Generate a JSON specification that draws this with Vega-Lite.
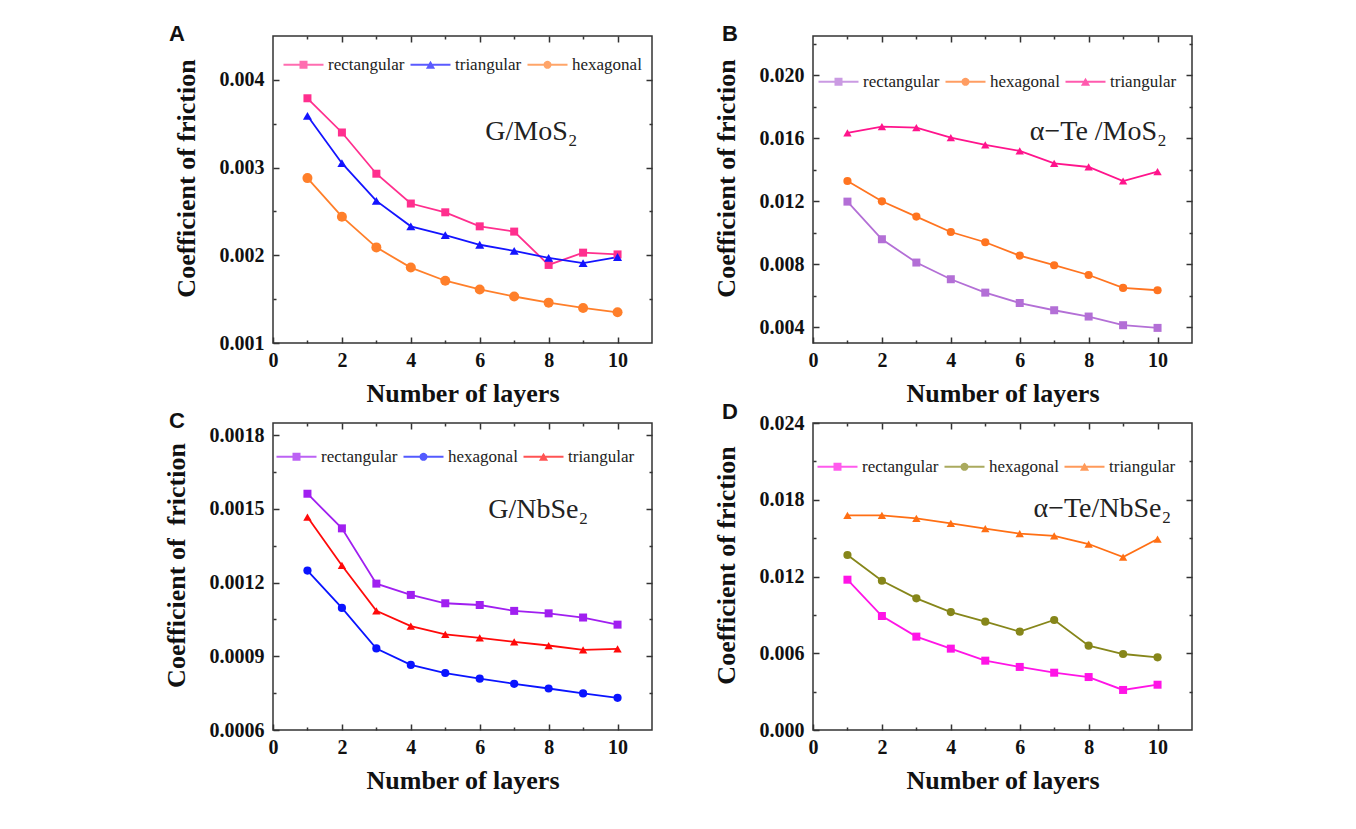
{
  "$schema": "https://vega.github.io/schema/vega-lite/v6.json",
  "background": "white",
  "padding": {"left": 162, "top": 22, "right": 5, "bottom": 5},
  "datasets": {
    "A": [
      {"layers": 1, "lattice": "rectangular", "cof": 0.00379}, {"layers": 2, "lattice": "rectangular", "cof": 0.00340},
      {"layers": 3, "lattice": "rectangular", "cof": 0.00293}, {"layers": 4, "lattice": "rectangular", "cof": 0.00259},
      {"layers": 5, "lattice": "rectangular", "cof": 0.00249}, {"layers": 6, "lattice": "rectangular", "cof": 0.00233},
      {"layers": 7, "lattice": "rectangular", "cof": 0.00227}, {"layers": 8, "lattice": "rectangular", "cof": 0.00189},
      {"layers": 9, "lattice": "rectangular", "cof": 0.00203}, {"layers": 10, "lattice": "rectangular", "cof": 0.00201},
      {"layers": 1, "lattice": "triangular", "cof": 0.00359}, {"layers": 2, "lattice": "triangular", "cof": 0.00305},
      {"layers": 3, "lattice": "triangular", "cof": 0.00262}, {"layers": 4, "lattice": "triangular", "cof": 0.00233},
      {"layers": 5, "lattice": "triangular", "cof": 0.00223}, {"layers": 6, "lattice": "triangular", "cof": 0.00212},
      {"layers": 7, "lattice": "triangular", "cof": 0.00205}, {"layers": 8, "lattice": "triangular", "cof": 0.00197},
      {"layers": 9, "lattice": "triangular", "cof": 0.00191}, {"layers": 10, "lattice": "triangular", "cof": 0.00198},
      {"layers": 1, "lattice": "hexagonal", "cof": 0.00288}, {"layers": 2, "lattice": "hexagonal", "cof": 0.00244},
      {"layers": 3, "lattice": "hexagonal", "cof": 0.00209}, {"layers": 4, "lattice": "hexagonal", "cof": 0.00186},
      {"layers": 5, "lattice": "hexagonal", "cof": 0.00171}, {"layers": 6, "lattice": "hexagonal", "cof": 0.00161},
      {"layers": 7, "lattice": "hexagonal", "cof": 0.00153}, {"layers": 8, "lattice": "hexagonal", "cof": 0.00146},
      {"layers": 9, "lattice": "hexagonal", "cof": 0.00140}, {"layers": 10, "lattice": "hexagonal", "cof": 0.00135}
    ],
    "B": [
      {"layers": 1, "lattice": "rectangular", "cof": 0.01198}, {"layers": 2, "lattice": "rectangular", "cof": 0.00959},
      {"layers": 3, "lattice": "rectangular", "cof": 0.00811}, {"layers": 4, "lattice": "rectangular", "cof": 0.00705},
      {"layers": 5, "lattice": "rectangular", "cof": 0.00620}, {"layers": 6, "lattice": "rectangular", "cof": 0.00554},
      {"layers": 7, "lattice": "rectangular", "cof": 0.00508}, {"layers": 8, "lattice": "rectangular", "cof": 0.00468},
      {"layers": 9, "lattice": "rectangular", "cof": 0.00413}, {"layers": 10, "lattice": "rectangular", "cof": 0.00396},
      {"layers": 1, "lattice": "hexagonal", "cof": 0.01329}, {"layers": 2, "lattice": "hexagonal", "cof": 0.01200},
      {"layers": 3, "lattice": "hexagonal", "cof": 0.01103}, {"layers": 4, "lattice": "hexagonal", "cof": 0.01005},
      {"layers": 5, "lattice": "hexagonal", "cof": 0.00940}, {"layers": 6, "lattice": "hexagonal", "cof": 0.00855},
      {"layers": 7, "lattice": "hexagonal", "cof": 0.00794}, {"layers": 8, "lattice": "hexagonal", "cof": 0.00732},
      {"layers": 9, "lattice": "hexagonal", "cof": 0.00650}, {"layers": 10, "lattice": "hexagonal", "cof": 0.00635},
      {"layers": 1, "lattice": "triangular", "cof": 0.01634}, {"layers": 2, "lattice": "triangular", "cof": 0.01674},
      {"layers": 3, "lattice": "triangular", "cof": 0.01668}, {"layers": 4, "lattice": "triangular", "cof": 0.01604},
      {"layers": 5, "lattice": "triangular", "cof": 0.01558}, {"layers": 6, "lattice": "triangular", "cof": 0.01520},
      {"layers": 7, "lattice": "triangular", "cof": 0.01441}, {"layers": 8, "lattice": "triangular", "cof": 0.01418},
      {"layers": 9, "lattice": "triangular", "cof": 0.01329}, {"layers": 10, "lattice": "triangular", "cof": 0.01388}
    ],
    "C": [
      {"layers": 1, "lattice": "rectangular", "cof": 0.001562}, {"layers": 2, "lattice": "rectangular", "cof": 0.001421},
      {"layers": 3, "lattice": "rectangular", "cof": 0.001196}, {"layers": 4, "lattice": "rectangular", "cof": 0.001150},
      {"layers": 5, "lattice": "rectangular", "cof": 0.001116}, {"layers": 6, "lattice": "rectangular", "cof": 0.001109},
      {"layers": 7, "lattice": "rectangular", "cof": 0.001085}, {"layers": 8, "lattice": "rectangular", "cof": 0.001075},
      {"layers": 9, "lattice": "rectangular", "cof": 0.001058}, {"layers": 10, "lattice": "rectangular", "cof": 0.001029},
      {"layers": 1, "lattice": "hexagonal", "cof": 0.001249}, {"layers": 2, "lattice": "hexagonal", "cof": 0.001097},
      {"layers": 3, "lattice": "hexagonal", "cof": 0.000932}, {"layers": 4, "lattice": "hexagonal", "cof": 0.000865},
      {"layers": 5, "lattice": "hexagonal", "cof": 0.000832}, {"layers": 6, "lattice": "hexagonal", "cof": 0.000809},
      {"layers": 7, "lattice": "hexagonal", "cof": 0.000788}, {"layers": 8, "lattice": "hexagonal", "cof": 0.000769},
      {"layers": 9, "lattice": "hexagonal", "cof": 0.000749}, {"layers": 10, "lattice": "hexagonal", "cof": 0.000731},
      {"layers": 1, "lattice": "triangular", "cof": 0.001467}, {"layers": 2, "lattice": "triangular", "cof": 0.001270},
      {"layers": 3, "lattice": "triangular", "cof": 0.001085}, {"layers": 4, "lattice": "triangular", "cof": 0.001023},
      {"layers": 5, "lattice": "triangular", "cof": 0.000989}, {"layers": 6, "lattice": "triangular", "cof": 0.000975},
      {"layers": 7, "lattice": "triangular", "cof": 0.000959}, {"layers": 8, "lattice": "triangular", "cof": 0.000944},
      {"layers": 9, "lattice": "triangular", "cof": 0.000926}, {"layers": 10, "lattice": "triangular", "cof": 0.000930}
    ],
    "D": [
      {"layers": 1, "lattice": "rectangular", "cof": 0.01175}, {"layers": 2, "lattice": "rectangular", "cof": 0.00891},
      {"layers": 3, "lattice": "rectangular", "cof": 0.00730}, {"layers": 4, "lattice": "rectangular", "cof": 0.00636},
      {"layers": 5, "lattice": "rectangular", "cof": 0.00542}, {"layers": 6, "lattice": "rectangular", "cof": 0.00493},
      {"layers": 7, "lattice": "rectangular", "cof": 0.00448}, {"layers": 8, "lattice": "rectangular", "cof": 0.00414},
      {"layers": 9, "lattice": "rectangular", "cof": 0.00313}, {"layers": 10, "lattice": "rectangular", "cof": 0.00354},
      {"layers": 1, "lattice": "hexagonal", "cof": 0.01368}, {"layers": 2, "lattice": "hexagonal", "cof": 0.01167},
      {"layers": 3, "lattice": "hexagonal", "cof": 0.01029}, {"layers": 4, "lattice": "hexagonal", "cof": 0.00922},
      {"layers": 5, "lattice": "hexagonal", "cof": 0.00847}, {"layers": 6, "lattice": "hexagonal", "cof": 0.00769},
      {"layers": 7, "lattice": "hexagonal", "cof": 0.00860}, {"layers": 8, "lattice": "hexagonal", "cof": 0.00659},
      {"layers": 9, "lattice": "hexagonal", "cof": 0.00594}, {"layers": 10, "lattice": "hexagonal", "cof": 0.00568},
      {"layers": 1, "lattice": "triangular", "cof": 0.01678}, {"layers": 2, "lattice": "triangular", "cof": 0.01678},
      {"layers": 3, "lattice": "triangular", "cof": 0.01655}, {"layers": 4, "lattice": "triangular", "cof": 0.01616},
      {"layers": 5, "lattice": "triangular", "cof": 0.01574}, {"layers": 6, "lattice": "triangular", "cof": 0.01535},
      {"layers": 7, "lattice": "triangular", "cof": 0.01517}, {"layers": 8, "lattice": "triangular", "cof": 0.01454},
      {"layers": 9, "lattice": "triangular", "cof": 0.01352}, {"layers": 10, "lattice": "triangular", "cof": 0.01493}
    ]
  },
  "columns": 2,
  "spacing": {"row": 80, "column": 161},
  "bounds": "flush",
  "concat": [
    {
      "title": {"text": "A", "anchor": "start", "frame": "group", "dx": -104, "dy": 28, "offset": 0, "baseline": "alphabetic", "font": "Liberation Sans", "fontWeight": "bold", "fontSize": 22, "color": "#111"},
      "width": 379, "height": 307,
      "data": {"name": "A"},
      "layer": [
        {
          "mark": {"type": "line", "strokeWidth": 1.8},
          "encoding": {
            "x": {"field": "layers", "type": "quantitative", "scale": {"domain": [0, 11], "nice": false},
                  "axis": {"orient": "bottom", "values": [0, 2, 4, 6, 8, 10], "tickSize": -6, "labelPadding": 13, "title": "Number of layers", "titlePadding": 10}},
            "y": {"field": "cof", "type": "quantitative", "scale": {"domain": [0.001, 0.0045], "nice": false, "zero": false},
                  "axis": {"orient": "left", "values": [0.001, 0.002, 0.003, 0.004], "format": ".3f", "tickSize": -6, "labelPadding": 15, "title": "Coefficient of friction", "titlePadding": 20, "titleY": 142}},
            "color": {"field": "lattice", "type": "nominal", "scale": {"domain": ["rectangular", "triangular", "hexagonal"], "range": ["#ff2f8e", "#1414ff", "#ff7f2a"]}, "legend": null}
          }
        },
        {
          "mark": {"type": "point", "filled": true, "opacity": 1},
          "encoding": {
            "x": {"field": "layers", "type": "quantitative", "axis": {"orient": "bottom", "values": [1, 3, 5, 7, 9], "tickSize": -3, "labels": false, "title": null}},
            "y": {"field": "cof", "type": "quantitative", "axis": {"orient": "left", "values": [0.0015, 0.0025, 0.0035], "tickSize": -3, "labels": false, "title": null}},
            "color": {"field": "lattice", "type": "nominal", "scale": {"domain": ["rectangular", "triangular", "hexagonal"], "range": ["#ff2f8e", "#1414ff", "#ff7f2a"]}, "legend": null},
            "shape": {"field": "lattice", "type": "nominal", "scale": {"domain": ["rectangular", "triangular", "hexagonal"], "range": ["square", "triangle-up", "circle"]}, "legend": null},
            "size": {"field": "lattice", "type": "nominal", "scale": {"domain": ["rectangular", "triangular", "hexagonal"], "range": [64, 100, 70]}, "legend": null}
          }
        },
        {
          "transform": [{"filter": "false"}],
          "mark": {"type": "point", "filled": true, "size": 64},
          "encoding": {
            "x": {"field": "layers", "type": "quantitative", "axis": {"orient": "top", "values": [2, 4, 6, 8, 10], "tickSize": -6, "labels": false, "title": null}},
            "y": {"field": "cof", "type": "quantitative", "axis": {"orient": "right", "values": [0.002, 0.003, 0.004], "tickSize": -6, "labels": false, "title": null}},
            "color": {"field": "lattice", "type": "nominal", "scale": {"domain": ["rectangular", "triangular", "hexagonal"], "range": ["#ff2f8e", "#1414ff", "#ff7f2a"]},
                      "legend": {"orient": "none", "legendX": 22, "legendY": 20, "direction": "horizontal", "columns": 3, "title": null, "symbolSize": 64, "labelOffset": 16, "columnPadding": 5, "labelFont": "Liberation Serif", "labelFontSize": 17, "labelColor": "#222", "symbolStrokeWidth": 0, "padding": 0}},
            "shape": {"field": "lattice", "type": "nominal", "scale": {"domain": ["rectangular", "triangular", "hexagonal"], "range": [
                        "M-5,-0.22H-1V-1H1V-0.22H5V0.22H1V1H-1V0.22H-5Z",
                        "M-5,-0.22H-0.449L0,-1L0.449,-0.22H5V0.22H0.702L1.15,1H-1.15L-0.702,0.22H-5Z",
                        "M-5,-0.22H-0.976A1,1 0 0 1 0.976,-0.22H5V0.22H0.976A1,1 0 0 1 -0.976,0.22H-5Z"]},
                      "legend": {"orient": "none", "legendX": 22, "legendY": 20, "direction": "horizontal", "columns": 3, "title": null, "symbolSize": 64, "labelOffset": 16, "columnPadding": 5, "labelFont": "Liberation Serif", "labelFontSize": 17, "labelColor": "#222", "symbolStrokeWidth": 0, "padding": 0}}
          }
        },
        {
          "data": {"values": [{}]},
          "mark": {"type": "text", "font": "Liberation Serif", "fontSize": 28, "color": "#222", "align": "center", "baseline": "middle"},
          "encoding": {
            "x": {"datum": 7.5, "type": "quantitative", "axis": {"orient": "top", "values": [1, 3, 5, 7, 9], "tickSize": -3, "labels": false, "title": null}},
            "y": {"datum": 0.0034, "type": "quantitative", "axis": {"orient": "right", "values": [0.0015, 0.0025, 0.0035], "tickSize": -3, "labels": false, "title": null}},
            "text": {"value": "G/MoS₂"}
          }
        }
      ],
      "resolve": {"scale": {"color": "independent", "shape": "independent", "size": "independent"}, "axis": {"x": "independent", "y": "independent"}}
    },
    {
      "title": {"text": "B", "anchor": "start", "frame": "group", "dx": -91, "dy": 28, "offset": 0, "baseline": "alphabetic", "font": "Liberation Sans", "fontWeight": "bold", "fontSize": 22, "color": "#111"},
      "width": 379, "height": 307,
      "data": {"name": "B"},
      "layer": [
        {
          "mark": {"type": "line", "strokeWidth": 1.8},
          "encoding": {
            "x": {"field": "layers", "type": "quantitative", "scale": {"domain": [0, 11], "nice": false},
                  "axis": {"orient": "bottom", "values": [0, 2, 4, 6, 8, 10], "tickSize": -6, "labelPadding": 13, "title": "Number of layers", "titlePadding": 10}},
            "y": {"field": "cof", "type": "quantitative", "scale": {"domain": [0.003, 0.0225], "nice": false, "zero": false},
                  "axis": {"orient": "left", "values": [0.004, 0.008, 0.012, 0.016, 0.02], "format": ".3f", "tickSize": -6, "labelPadding": 15, "title": "Coefficient of friction", "titlePadding": 20, "titleY": 142}},
            "color": {"field": "lattice", "type": "nominal", "scale": {"domain": ["rectangular", "hexagonal", "triangular"], "range": ["#b36fd6", "#ff7420", "#ff148c"]}, "legend": null}
          }
        },
        {
          "mark": {"type": "point", "filled": true, "opacity": 1},
          "encoding": {
            "x": {"field": "layers", "type": "quantitative", "axis": {"orient": "bottom", "values": [1, 3, 5, 7, 9], "tickSize": -3, "labels": false, "title": null}},
            "y": {"field": "cof", "type": "quantitative", "axis": {"orient": "left", "values": [0.006, 0.01, 0.014, 0.018, 0.022], "tickSize": -3, "labels": false, "title": null}},
            "color": {"field": "lattice", "type": "nominal", "scale": {"domain": ["rectangular", "hexagonal", "triangular"], "range": ["#b36fd6", "#ff7420", "#ff148c"]}, "legend": null},
            "shape": {"field": "lattice", "type": "nominal", "scale": {"domain": ["rectangular", "hexagonal", "triangular"], "range": ["square", "circle", "triangle-up"]}, "legend": null},
            "size": {"field": "lattice", "type": "nominal", "scale": {"domain": ["rectangular", "hexagonal", "triangular"], "range": [64, 70, 100]}, "legend": null}
          }
        },
        {
          "transform": [{"filter": "false"}],
          "mark": {"type": "point", "filled": true, "size": 64},
          "encoding": {
            "x": {"field": "layers", "type": "quantitative", "axis": {"orient": "top", "values": [2, 4, 6, 8, 10], "tickSize": -6, "labels": false, "title": null}},
            "y": {"field": "cof", "type": "quantitative", "axis": {"orient": "right", "values": [0.004, 0.008, 0.012, 0.016, 0.02], "tickSize": -6, "labels": false, "title": null}},
            "color": {"field": "lattice", "type": "nominal", "scale": {"domain": ["rectangular", "hexagonal", "triangular"], "range": ["#b36fd6", "#ff7420", "#ff148c"]},
                      "legend": {"orient": "none", "legendX": 17, "legendY": 37, "direction": "horizontal", "columns": 3, "title": null, "symbolSize": 64, "labelOffset": 16, "columnPadding": 5, "labelFont": "Liberation Serif", "labelFontSize": 17, "labelColor": "#222", "symbolStrokeWidth": 0, "padding": 0}},
            "shape": {"field": "lattice", "type": "nominal", "scale": {"domain": ["rectangular", "hexagonal", "triangular"], "range": [
                        "M-5,-0.22H-1V-1H1V-0.22H5V0.22H1V1H-1V0.22H-5Z",
                        "M-5,-0.22H-0.976A1,1 0 0 1 0.976,-0.22H5V0.22H0.976A1,1 0 0 1 -0.976,0.22H-5Z",
                        "M-5,-0.22H-0.449L0,-1L0.449,-0.22H5V0.22H0.702L1.15,1H-1.15L-0.702,0.22H-5Z"]},
                      "legend": {"orient": "none", "legendX": 17, "legendY": 37, "direction": "horizontal", "columns": 3, "title": null, "symbolSize": 64, "labelOffset": 16, "columnPadding": 5, "labelFont": "Liberation Serif", "labelFontSize": 17, "labelColor": "#222", "symbolStrokeWidth": 0, "padding": 0}}
          }
        },
        {
          "data": {"values": [{}]},
          "mark": {"type": "text", "font": "Liberation Serif", "fontSize": 28, "color": "#222", "align": "center", "baseline": "middle"},
          "encoding": {
            "x": {"datum": 8.28, "type": "quantitative", "axis": {"orient": "top", "values": [1, 3, 5, 7, 9], "tickSize": -3, "labels": false, "title": null}},
            "y": {"datum": 0.0164, "type": "quantitative", "axis": {"orient": "right", "values": [0.006, 0.01, 0.014, 0.018, 0.022], "tickSize": -3, "labels": false, "title": null}},
            "text": {"value": "α−Te /MoS₂"}
          }
        }
      ],
      "resolve": {"scale": {"color": "independent", "shape": "independent", "size": "independent"}, "axis": {"x": "independent", "y": "independent"}}
    },
    {
      "title": {"text": "C", "anchor": "start", "frame": "group", "dx": -104, "dy": 28, "offset": 0, "baseline": "alphabetic", "font": "Liberation Sans", "fontWeight": "bold", "fontSize": 22, "color": "#111"},
      "width": 379, "height": 307,
      "data": {"name": "C"},
      "layer": [
        {
          "mark": {"type": "line", "strokeWidth": 1.8},
          "encoding": {
            "x": {"field": "layers", "type": "quantitative", "scale": {"domain": [0, 11], "nice": false},
                  "axis": {"orient": "bottom", "values": [0, 2, 4, 6, 8, 10], "tickSize": -6, "labelPadding": 13, "title": "Number of layers", "titlePadding": 10}},
            "y": {"field": "cof", "type": "quantitative", "scale": {"domain": [0.0006, 0.00185], "nice": false, "zero": false},
                  "axis": {"orient": "left", "values": [0.0006, 0.0009, 0.0012, 0.0015, 0.0018], "format": ".4f", "tickSize": -6, "labelPadding": 15, "title": "Coefficient of\u00a0 friction", "titlePadding": 20, "titleY": 142}},
            "color": {"field": "lattice", "type": "nominal", "scale": {"domain": ["rectangular", "hexagonal", "triangular"], "range": ["#a01ff0", "#0a14ff", "#ff0a0a"]}, "legend": null}
          }
        },
        {
          "mark": {"type": "point", "filled": true, "opacity": 1},
          "encoding": {
            "x": {"field": "layers", "type": "quantitative", "axis": {"orient": "bottom", "values": [1, 3, 5, 7, 9], "tickSize": -3, "labels": false, "title": null}},
            "y": {"field": "cof", "type": "quantitative", "axis": {"orient": "left", "values": [0.00075, 0.00105, 0.00135, 0.00165], "tickSize": -3, "labels": false, "title": null}},
            "color": {"field": "lattice", "type": "nominal", "scale": {"domain": ["rectangular", "hexagonal", "triangular"], "range": ["#a01ff0", "#0a14ff", "#ff0a0a"]}, "legend": null},
            "shape": {"field": "lattice", "type": "nominal", "scale": {"domain": ["rectangular", "hexagonal", "triangular"], "range": ["square", "circle", "triangle-up"]}, "legend": null},
            "size": {"field": "lattice", "type": "nominal", "scale": {"domain": ["rectangular", "hexagonal", "triangular"], "range": [64, 70, 100]}, "legend": null}
          }
        },
        {
          "transform": [{"filter": "false"}],
          "mark": {"type": "point", "filled": true, "size": 64},
          "encoding": {
            "x": {"field": "layers", "type": "quantitative", "axis": {"orient": "top", "values": [2, 4, 6, 8, 10], "tickSize": -6, "labels": false, "title": null}},
            "y": {"field": "cof", "type": "quantitative", "axis": {"orient": "right", "values": [0.0009, 0.0012, 0.0015, 0.0018], "tickSize": -6, "labels": false, "title": null}},
            "color": {"field": "lattice", "type": "nominal", "scale": {"domain": ["rectangular", "hexagonal", "triangular"], "range": ["#a01ff0", "#0a14ff", "#ff0a0a"]},
                      "legend": {"orient": "none", "legendX": 15, "legendY": 25, "direction": "horizontal", "columns": 3, "title": null, "symbolSize": 64, "labelOffset": 16, "columnPadding": 5, "labelFont": "Liberation Serif", "labelFontSize": 17, "labelColor": "#222", "symbolStrokeWidth": 0, "padding": 0}},
            "shape": {"field": "lattice", "type": "nominal", "scale": {"domain": ["rectangular", "hexagonal", "triangular"], "range": [
                        "M-5,-0.22H-1V-1H1V-0.22H5V0.22H1V1H-1V0.22H-5Z",
                        "M-5,-0.22H-0.976A1,1 0 0 1 0.976,-0.22H5V0.22H0.976A1,1 0 0 1 -0.976,0.22H-5Z",
                        "M-5,-0.22H-0.449L0,-1L0.449,-0.22H5V0.22H0.702L1.15,1H-1.15L-0.702,0.22H-5Z"]},
                      "legend": {"orient": "none", "legendX": 15, "legendY": 25, "direction": "horizontal", "columns": 3, "title": null, "symbolSize": 64, "labelOffset": 16, "columnPadding": 5, "labelFont": "Liberation Serif", "labelFontSize": 17, "labelColor": "#222", "symbolStrokeWidth": 0, "padding": 0}}
          }
        },
        {
          "data": {"values": [{}]},
          "mark": {"type": "text", "font": "Liberation Serif", "fontSize": 28, "color": "#222", "align": "center", "baseline": "middle"},
          "encoding": {
            "x": {"datum": 7.7, "type": "quantitative", "axis": {"orient": "top", "values": [1, 3, 5, 7, 9], "tickSize": -3, "labels": false, "title": null}},
            "y": {"datum": 0.001494, "type": "quantitative", "axis": {"orient": "right", "values": [0.00075, 0.00105, 0.00135, 0.00165], "tickSize": -3, "labels": false, "title": null}},
            "text": {"value": "G/NbSe₂"}
          }
        }
      ],
      "resolve": {"scale": {"color": "independent", "shape": "independent", "size": "independent"}, "axis": {"x": "independent", "y": "independent"}}
    },
    {
      "title": {"text": "D", "anchor": "start", "frame": "group", "dx": -91, "dy": 28, "offset": 0, "baseline": "alphabetic", "font": "Liberation Sans", "fontWeight": "bold", "fontSize": 22, "color": "#111"},
      "width": 379, "height": 307,
      "data": {"name": "D"},
      "layer": [
        {
          "mark": {"type": "line", "strokeWidth": 1.8},
          "encoding": {
            "x": {"field": "layers", "type": "quantitative", "scale": {"domain": [0, 11], "nice": false},
                  "axis": {"orient": "bottom", "values": [0, 2, 4, 6, 8, 10], "tickSize": -6, "labelPadding": 13, "title": "Number of layers", "titlePadding": 10}},
            "y": {"field": "cof", "type": "quantitative", "scale": {"domain": [0, 0.024], "nice": false, "zero": false},
                  "axis": {"orient": "left", "values": [0, 0.006, 0.012, 0.018, 0.024], "format": ".3f", "tickSize": -6, "labelPadding": 15, "title": "Coefficient of friction", "titlePadding": 20, "titleY": 142}},
            "color": {"field": "lattice", "type": "nominal", "scale": {"domain": ["rectangular", "hexagonal", "triangular"], "range": ["#ff14e6", "#86861a", "#ff6f14"]}, "legend": null}
          }
        },
        {
          "mark": {"type": "point", "filled": true, "opacity": 1},
          "encoding": {
            "x": {"field": "layers", "type": "quantitative", "axis": {"orient": "bottom", "values": [1, 3, 5, 7, 9], "tickSize": -3, "labels": false, "title": null}},
            "y": {"field": "cof", "type": "quantitative", "axis": {"orient": "left", "values": [0.003, 0.009, 0.015, 0.021], "tickSize": -3, "labels": false, "title": null}},
            "color": {"field": "lattice", "type": "nominal", "scale": {"domain": ["rectangular", "hexagonal", "triangular"], "range": ["#ff14e6", "#86861a", "#ff6f14"]}, "legend": null},
            "shape": {"field": "lattice", "type": "nominal", "scale": {"domain": ["rectangular", "hexagonal", "triangular"], "range": ["square", "circle", "triangle-up"]}, "legend": null},
            "size": {"field": "lattice", "type": "nominal", "scale": {"domain": ["rectangular", "hexagonal", "triangular"], "range": [64, 70, 100]}, "legend": null}
          }
        },
        {
          "transform": [{"filter": "false"}],
          "mark": {"type": "point", "filled": true, "size": 64},
          "encoding": {
            "x": {"field": "layers", "type": "quantitative", "axis": {"orient": "top", "values": [2, 4, 6, 8, 10], "tickSize": -6, "labels": false, "title": null}},
            "y": {"field": "cof", "type": "quantitative", "axis": {"orient": "right", "values": [0.006, 0.012, 0.018], "tickSize": -6, "labels": false, "title": null}},
            "color": {"field": "lattice", "type": "nominal", "scale": {"domain": ["rectangular", "hexagonal", "triangular"], "range": ["#ff14e6", "#86861a", "#ff6f14"]},
                      "legend": {"orient": "none", "legendX": 16, "legendY": 35, "direction": "horizontal", "columns": 3, "title": null, "symbolSize": 64, "labelOffset": 16, "columnPadding": 5, "labelFont": "Liberation Serif", "labelFontSize": 17, "labelColor": "#222", "symbolStrokeWidth": 0, "padding": 0}},
            "shape": {"field": "lattice", "type": "nominal", "scale": {"domain": ["rectangular", "hexagonal", "triangular"], "range": [
                        "M-5,-0.22H-1V-1H1V-0.22H5V0.22H1V1H-1V0.22H-5Z",
                        "M-5,-0.22H-0.976A1,1 0 0 1 0.976,-0.22H5V0.22H0.976A1,1 0 0 1 -0.976,0.22H-5Z",
                        "M-5,-0.22H-0.449L0,-1L0.449,-0.22H5V0.22H0.702L1.15,1H-1.15L-0.702,0.22H-5Z"]},
                      "legend": {"orient": "none", "legendX": 16, "legendY": 35, "direction": "horizontal", "columns": 3, "title": null, "symbolSize": 64, "labelOffset": 16, "columnPadding": 5, "labelFont": "Liberation Serif", "labelFontSize": 17, "labelColor": "#222", "symbolStrokeWidth": 0, "padding": 0}}
          }
        },
        {
          "data": {"values": [{}]},
          "mark": {"type": "text", "font": "Liberation Serif", "fontSize": 28, "color": "#222", "align": "center", "baseline": "middle"},
          "encoding": {
            "x": {"datum": 8.4, "type": "quantitative", "axis": {"orient": "top", "values": [1, 3, 5, 7, 9], "tickSize": -3, "labels": false, "title": null}},
            "y": {"datum": 0.01728, "type": "quantitative", "axis": {"orient": "right", "values": [0.003, 0.009, 0.015, 0.021], "tickSize": -3, "labels": false, "title": null}},
            "text": {"value": "α−Te/NbSe₂"}
          }
        }
      ],
      "resolve": {"scale": {"color": "independent", "shape": "independent", "size": "independent"}, "axis": {"x": "independent", "y": "independent"}}
    }
  ],
  "config": {
    "view": {"stroke": "#333", "strokeWidth": 1.5},
    "axis": {
      "domain": false, "grid": false, "tickColor": "#333", "tickWidth": 1.5,
      "labelFont": "Liberation Serif", "labelFontWeight": "bold", "labelFontSize": 20, "labelColor": "#111",
      "labelFlush": false, "labelOverlap": false,
      "titleFont": "Liberation Serif", "titleFontWeight": "bold", "titleFontSize": 26, "titleColor": "#111"
    }
  }
}
